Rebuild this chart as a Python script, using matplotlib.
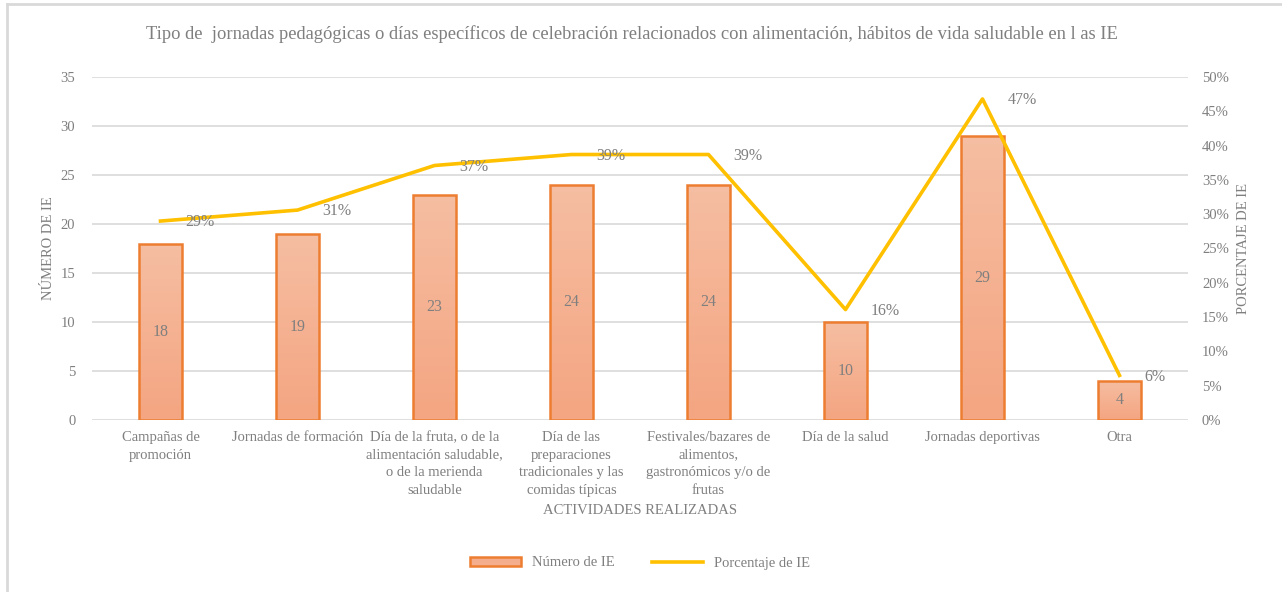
import numpy as np
import matplotlib.pyplot as plt
from matplotlib.lines import Line2D
from matplotlib.patches import Patch
from matplotlib.colors import LinearSegmentedColormap

plt.rcParams['font.family'] = ['Liberation Serif', 'DejaVu Serif']

categorias = [
    "Campañas de\npromoción",
    "Jornadas de formación",
    "Día de la fruta, o de la\nalimentación saludable,\no de la merienda\nsaludable",
    "Día de las\npreparaciones\ntradicionales y las\ncomidas típicas",
    "Festivales/bazares de\nalimentos,\ngastronómicos y/o de\nfrutas",
    "Día de la salud",
    "Jornadas deportivas",
    "Otra",
]
numero_ie = [18, 19, 23, 24, 24, 10, 29, 4]
porcentaje_ie = [29.0, 30.6, 37.1, 38.7, 38.7, 16.1, 46.8, 6.5]

gris = "#7f7f7f"
naranja = "#ED7D31"
amarillo = "#FFC000"

fig = plt.figure(figsize=(12.82, 5.92), dpi=100)
ax = fig.add_axes([92 / 1282, 1 - 420 / 592, (1188 - 92) / 1282, (420 - 77) / 592])
ax2 = ax.twinx()

x = np.arange(len(categorias))
ancho = 0.32

# barras con relleno degradado
grad = np.linspace(0, 1, 256).reshape(-1, 1)
cmap = LinearSegmentedColormap.from_list("naranja", ["#F4A581", "#F6BEA2"])
barras = ax.bar(x, numero_ie, width=ancho, color="none", edgecolor=naranja, linewidth=1.8, zorder=3)
for b in barras:
    x0, y0 = b.get_x(), b.get_y()
    img = ax.imshow(grad, extent=[x0, x0 + b.get_width(), y0, y0 + b.get_height()],
                    origin="lower", cmap=cmap, aspect="auto", zorder=2)
    img.set_clip_path(b)
for xi, v in zip(x, numero_ie):
    ax.text(xi, v / 2, str(v), ha="center", va="center", color=gris, fontsize=11.5, zorder=4)

ax.set_xlim(-0.5, len(categorias) - 0.5)
ax.set_ylim(0, 35)
ax.set_yticks(range(0, 36, 5))
ax.grid(axis="y", color="#d9d9d9", linewidth=1.2, zorder=0)
ax.set_axisbelow(True)
for s in ax.spines.values():
    s.set_visible(False)
for s in ax2.spines.values():
    s.set_visible(False)
ax.tick_params(axis="both", length=0, colors=gris, labelsize=10.5)
ax.tick_params(axis="y", pad=12)
ax.set_xticks(x)
ax.set_xticklabels(categorias, va="top", linespacing=1.45)
ax.tick_params(axis="x", pad=8)
ax.set_ylabel("NÚMERO DE IE", color=gris, fontsize=10.5, labelpad=4)
ax.set_xlabel("ACTIVIDADES REALIZADAS", color=gris, fontsize=10.5, labelpad=5)

# línea de porcentaje
ax2.plot(x, porcentaje_ie, color=amarillo, linewidth=2.6, zorder=5)
ax2.set_ylim(0, 50)
ax2.set_yticks(range(0, 51, 5))
ax2.set_yticklabels([f"{v}%" for v in range(0, 51, 5)])
ax2.tick_params(axis="y", length=0, colors=gris, labelsize=10.5, pad=10)
ax2.set_ylabel("PORCENTAJE DE IE", color=gris, fontsize=10.5, labelpad=6)
for xi, p in zip(x, porcentaje_ie):
    ax2.annotate(f"{p:.0f}%", (xi, p), xytext=(18, -1), textcoords="offset points",
                 ha="left", va="center", color=gris, fontsize=11.5, zorder=6)

fig.text(632 / 1282, 1 - 34 / 592,
         "Tipo de  jornadas pedagógicas o días específicos de celebración relacionados con alimentación, hábitos de vida saludable en l as IE",
         ha="center", va="center", color=gris, fontsize=13.3)

handles = [Patch(facecolor="#F4AE8D", edgecolor=naranja, linewidth=1.8),
           Line2D([0], [0], color=amarillo, linewidth=2.6)]
fig.legend(handles, ["Número de IE", "Porcentaje de IE"], loc="center",
           bbox_to_anchor=(640 / 1282, 1 - 563 / 592), ncol=2, frameon=False,
           fontsize=10.5, labelcolor=gris, handlelength=3.5, handleheight=0.6,
           columnspacing=2.5)

# marco del gráfico
fig.add_artist(Line2D([7 / 1282, 7 / 1282], [0, 1 - 4 / 592], color="#d9d9d9", linewidth=2,
                      transform=fig.transFigure))
fig.add_artist(Line2D([7 / 1282, 1], [1 - 4 / 592, 1 - 4 / 592], color="#d9d9d9", linewidth=2,
                      transform=fig.transFigure))

fig.savefig("out.png", dpi=100)
